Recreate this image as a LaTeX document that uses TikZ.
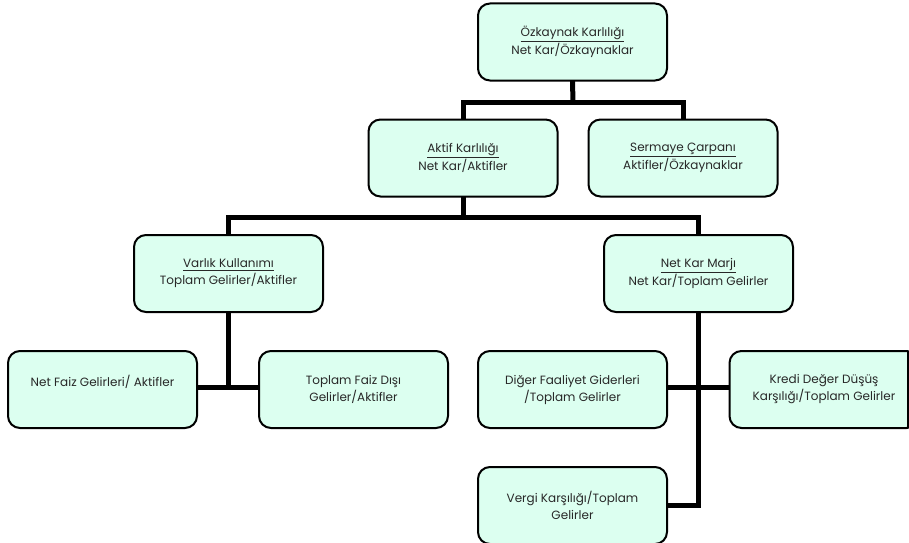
\documentclass[tikz,border=0pt]{standalone}
\usepackage{fontspec}
\setmainfont{Poppins}
\usetikzlibrary{backgrounds}
\definecolor{boxfill}{RGB}{220,255,240}
\definecolor{txt}{RGB}{40,40,40}
\tikzset{
  orgbox/.style={draw=black, line width=1.5pt, fill=boxfill, rounded corners=9pt,
    minimum width=141.75pt, minimum height=57.75pt, inner sep=2pt, align=center,
    text=txt, font=\fontsize{9}{12.75}\selectfont},
  conn/.style={draw=black, line width=3.75pt, line join=miter, line cap=rect}
}
\begin{document}
\begin{tikzpicture}[x=0.75pt,y=-0.75pt]
\path[clip] (0,0) rectangle (909,542);
\node[orgbox] (top) at (572.5,42) {\underline{Özkaynak Karlılığı}\\Net Kar/Özkaynaklar};
\node[orgbox] (aktif) at (463,158) {\underline{Aktif Karlılığı}\\Net Kar/Aktifler};
\node[orgbox] (sermaye) at (683,158) {\underline{Sermaye Çarpanı}\\Aktifler/Özkaynaklar};
\node[orgbox] (varlik) at (228.5,273.5) {\underline{Varlık Kullanımı}\\Toplam Gelirler/Aktifler};
\node[orgbox] (netkar) at (698.5,273.5) {\underline{Net Kar Marjı}\\Net Kar/Toplam Gelirler};
\node[orgbox] (netfaiz) at (102.5,389.5) {Net Faiz Gelirleri/ Aktifler\\\mbox{}};
\node[orgbox] (toplamfaiz) at (353.5,389.5) {Toplam Faiz Dışı\\Gelirler/Aktifler};
\node[orgbox] (diger) at (572.5,389.5) {Diğer Faaliyet Giderleri\\/Toplam Gelirler};
\node[orgbox] (kredi) at (824,389.5) {Kredi Değer Düşüş\\Karşılığı/Toplam Gelirler};
\node[orgbox] (vergi) at (572.5,505.5) {Vergi Karşılığı/Toplam\\Gelirler};
\draw[line width=1.5pt] (907.5,351) -- (907.5,428);
\coordinate (j1) at (573,102);
\coordinate (j2) at (463,217);
\coordinate (j3) at (228.5,387);
\coordinate (j4) at (698.5,387);
\begin{scope}[on background layer]
\draw[conn] (top.south) -- (j1);
\draw[conn] (aktif.north) |- (j1) -| (sermaye.north);
\draw[conn] (aktif.south) -- (j2);
\draw[conn] (varlik.north) |- (j2) -| (netkar.north);
\draw[conn] (varlik.south) -- (j3);
\draw[conn] (netfaiz.east |- j3) -- (toplamfaiz.west |- j3);
\draw[conn] (diger.east |- j4) -- (kredi.west |- j4);
\draw[conn] (netkar.south) |- (vergi.east);
\end{scope}
\end{tikzpicture}
\end{document}
